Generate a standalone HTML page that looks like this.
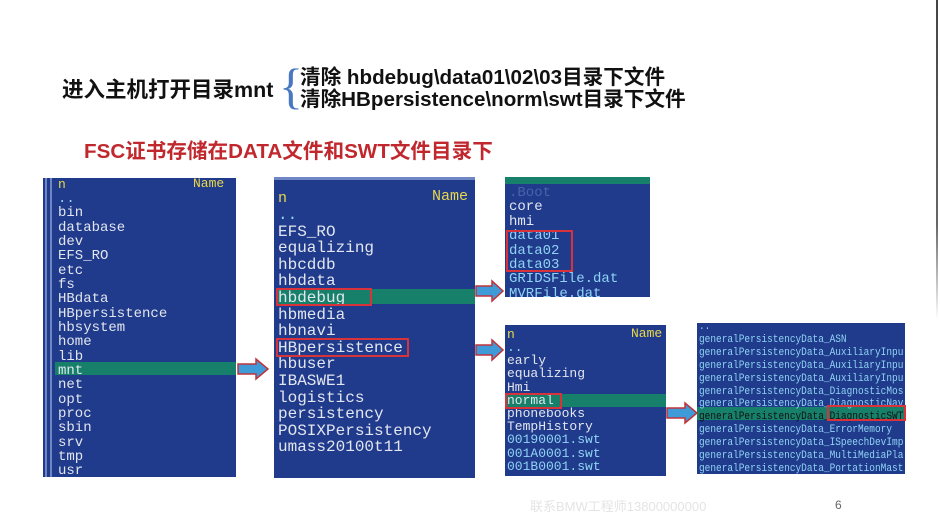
<!DOCTYPE html>
<html><head><meta charset="utf-8"><style>
*{margin:0;padding:0;box-sizing:border-box}
body{width:940px;height:528px;background:#fff;position:relative;overflow:hidden;font-family:"Liberation Sans","Noto Sans CJK SC",sans-serif}
.a{position:absolute;white-space:nowrap}
.p{position:absolute;background:#203a8c;overflow:hidden}
.m{font-family:"Liberation Mono","DejaVu Sans Mono",monospace;color:#e2e6ee}
.hl{position:absolute;background:#17806a}
.rb{position:absolute;border:2px solid #d8323a}
.y{color:#e8d84a}
.c{color:#8fd4f4}
</style></head><body>
<div class="a" style="left:936px;top:0;width:2px;height:320px;background:linear-gradient(#444,#666 70%,rgba(120,120,120,0))"></div>

<div class="a" style="left:62px;top:77px;font-size:21.5px;font-weight:bold;color:#111;line-height:26px">进入主机打开目录mnt</div>
<div class="a" style="left:279px;top:58px;font-size:50px;color:#4a78c0;font-family:'Liberation Serif',serif;line-height:56px">{</div>
<div class="a" style="left:300px;top:65px;font-size:20.6px;font-weight:bold;color:#111;line-height:26px">清除 hbdebug\data01\02\03目录下文件</div>
<div class="a" style="left:300px;top:87px;font-size:20.6px;font-weight:bold;color:#111;line-height:26px">清除HBpersistence\norm\swt目录下文件</div>
<div class="a" style="left:84px;top:139px;font-size:20.6px;font-weight:bold;color:#c0282e;line-height:26px">FSC证书存储在DATA文件和SWT文件目录下</div>

<!-- P1 -->
<div class="p" style="left:43px;top:178px;width:193px;height:299px">
<div class="a" style="left:2px;top:0;width:2px;height:299px;background:#6f86c4"></div>
<div class="a" style="left:7px;top:0;width:2px;height:299px;background:#6f86c4"></div>
<div class="hl" style="left:12px;top:184px;width:181px;height:13px"></div>
<div class="a m y" style="left:15px;top:0;font-size:13px;line-height:14px">n</div>
<div class="a m y" style="left:150px;top:-1px;font-size:13px;line-height:14px">Name</div>
<div class="a m" style="left:15px;top:14px;font-size:14px;line-height:14.33px">
<span class="c">..</span><br>bin<br>database<br>dev<br>EFS_RO<br>etc<br>fs<br>HBdata<br>HBpersistence<br>hbsystem<br>home<br>lib<br>mnt<br>net<br>opt<br>proc<br>sbin<br>srv<br>tmp<br>usr</div>
</div>

<!-- P2 -->
<div class="p" style="left:274px;top:177px;width:201px;height:301px">
<div class="a" style="left:0;top:0;width:201px;height:3px;background:#6f86c4"></div>
<div class="hl" style="left:2px;top:112px;width:199px;height:15px"></div>
<div class="a m y" style="left:4px;top:13px;font-size:15px">n</div>
<div class="a m y" style="left:158px;top:11px;font-size:15px">Name</div>
<div class="a m" style="left:4px;top:30px;font-size:16px;line-height:16.6px">
<span class="c">..</span><br>EFS_RO<br>equalizing<br>hbcddb<br>hbdata<br>hbdebug<br>hbmedia<br>hbnavi<br>HBpersistence<br>hbuser<br>IBASWE1<br>logistics<br>persistency<br>POSIXPersistency<br>umass20100t11</div>
</div>
<div class="rb" style="left:276px;top:288px;width:96px;height:18px"></div>
<div class="rb" style="left:276px;top:338px;width:133px;height:19px"></div>

<!-- P3 -->
<div class="p" style="left:505px;top:177px;width:145px;height:120px">
<div class="a" style="left:0;top:0;width:145px;height:7px;background:#17806a"></div>
<div class="a m" style="left:4px;top:9px;font-size:14px;line-height:14.4px">
<span style="color:#4a62a8">.Boot</span><br>core<br>hmi<br><span class="c">data01<br>data02<br>data03<br>GRIDSFile.dat<br>MVRFile.dat</span></div>
</div>
<div class="rb" style="left:506px;top:230px;width:67px;height:42px"></div>

<!-- P4 -->
<div class="p" style="left:505px;top:325px;width:161px;height:151px">
<div class="hl" style="left:0;top:69px;width:161px;height:13px"></div>
<div class="a m y" style="left:2px;top:2px;font-size:13px">n</div>
<div class="a m y" style="left:126px;top:1px;font-size:13px">Name</div>
<div class="a m" style="left:2px;top:16px;font-size:13px;line-height:13.2px">
<span class="c">..</span><br>early<br>equalizing<br>Hmi<br>normal<br>phonebooks<br>TempHistory<br><span class="c">00190001.swt<br>001A0001.swt<br>001B0001.swt</span></div>
</div>
<div class="rb" style="left:505px;top:393px;width:57px;height:16px"></div>

<!-- P5 -->
<div class="p" style="left:697px;top:323px;width:208px;height:151px">
<div class="hl" style="left:0;top:84px;width:208px;height:13px"></div>
<div class="a m c" style="left:2px;top:-2px;font-size:11px;line-height:12.9px;transform:scaleX(0.86);transform-origin:0 0">..<br>generalPersistencyData_ASN<br>generalPersistencyData_AuxiliaryInpu<br>generalPersistencyData_AuxiliaryInpu<br>generalPersistencyData_AuxiliaryInpu<br>generalPersistencyData_DiagnosticMos<br>generalPersistencyData_DiagnosticNav<br><span style="color:#111">generalPersistencyData_DiagnosticSWT</span><br>generalPersistencyData_ErrorMemory<br>generalPersistencyData_ISpeechDevImp<br>generalPersistencyData_MultiMediaPla<br>generalPersistencyData_PortationMast</div>
</div>
<div class="rb" style="left:827px;top:405px;width:79px;height:16px"></div>

<svg class="a" style="left:0;top:0" width="940" height="528">
<g fill="#3f9ad8" stroke="#c0333a" stroke-width="1.5">
<polygon points="238,364 256,364 256,359 268,369 256,379 256,374 238,374"/>
<polygon points="476,286 492,286 492,281 503,291 492,301 492,296 476,296"/>
<polygon points="476,345 492,345 492,340 503,350 492,360 492,355 476,355"/>
<polygon points="667,408 685,408 685,403 697,413 685,423 685,418 667,418"/>
</g></svg>

<div class="a" style="left:530px;top:496px;font-size:13px;color:#e4e4e4">联系BMW工程师13800000000</div>
<div class="a" style="left:835px;top:498px;font-size:12px;color:#666">6</div>
</body></html>
